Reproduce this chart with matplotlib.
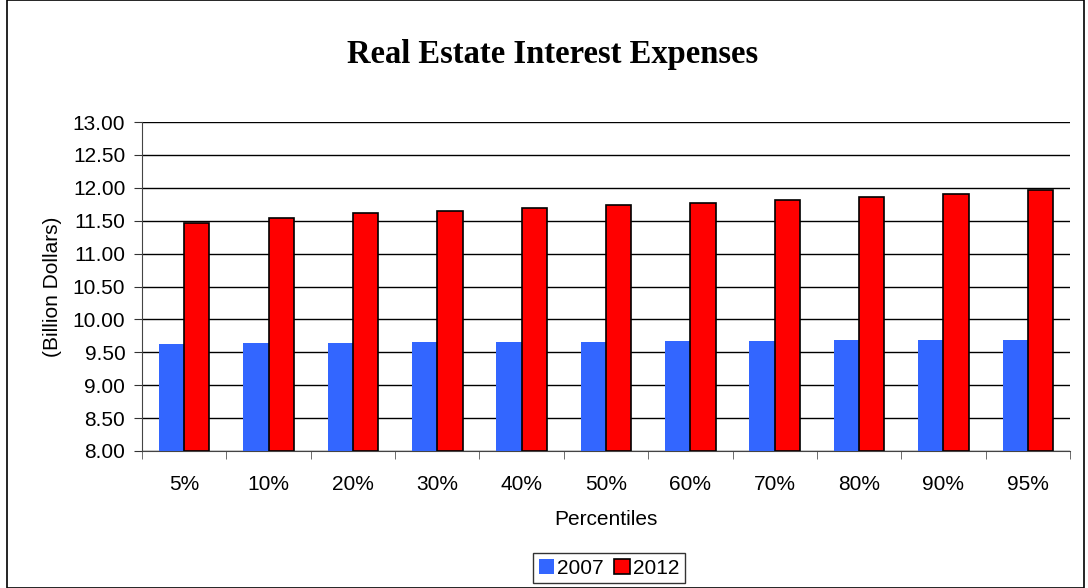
import numpy as np
import matplotlib
matplotlib.use("Agg")
from matplotlib import pyplot as plt
from matplotlib.patches import Rectangle

percentiles = ['5%', '10%', '20%', '30%', '40%', '50%', '60%', '70%', '80%', '90%', '95%']
vals_2007 = [9.63, 9.64, 9.645, 9.65, 9.655, 9.66, 9.665, 9.67, 9.68, 9.685, 9.69]
vals_2012 = [11.47, 11.54, 11.61, 11.65, 11.70, 11.74, 11.77, 11.82, 11.86, 11.91, 11.96]

plt.rcParams['font.family'] = ['Liberation Sans', 'DejaVu Sans']
fs = 15

fig = plt.figure(figsize=(10.88, 5.88), dpi=100)
ax = fig.add_axes([142 / 1088, 1 - 451 / 588, (1070 - 142) / 1088, (451 - 122) / 588])

x = np.arange(len(percentiles))
w = 0.3
ax.bar(x - w / 2, np.array(vals_2007) - 8, w, bottom=8, color='#3366ff', label='2007', zorder=3)
ax.bar(x + w / 2, np.array(vals_2012) - 8, w, bottom=8, color='#ff0000', edgecolor='black',
       linewidth=1.2, label='2012', zorder=3)

ax.set_xlim(-0.5, len(percentiles) - 0.5)
ax.set_ylim(8, 13)
ax.set_yticks(np.arange(8, 13.01, 0.5))
ax.set_yticklabels(['%.2f' % v for v in np.arange(8, 13.01, 0.5)], fontsize=fs)
ax.set_xticks(x)
ax.set_xticklabels(percentiles, fontsize=fs)
ax.tick_params(axis='x', length=0, pad=17)
ax.set_xticks(np.arange(-0.5, len(percentiles), 1), minor=True)
ax.tick_params(axis='x', which='minor', length=6, direction='out', color='#555555')
ax.tick_params(axis='y', length=6, direction='out', color='#333333', pad=6)
ax.grid(axis='y', color='black', linewidth=1, zorder=0)
for s in ['top', 'right']:
    ax.spines[s].set_visible(False)
ax.spines['left'].set_color('#444444')
ax.spines['bottom'].set_color('#444444')

ax.set_xlabel('Percentiles', fontsize=fs, labelpad=12)
ax.set_ylabel('(Billion Dollars)', fontsize=fs, labelpad=8)

fig.text(553 / 1088, 1 - 54 / 588, 'Real Estate Interest Expenses', ha='center', va='center',
         fontsize=23.5, fontweight='bold', family='Liberation Serif')

leg = ax.legend(loc='center', bbox_to_anchor=(609 / 1088, 1 - 568 / 588),
                bbox_transform=fig.transFigure, ncol=2, frameon=True, fancybox=False,
                fontsize=fs, handlelength=0.75, handleheight=0.75, handletextpad=0.15,
                columnspacing=0.5, borderpad=0.25, borderaxespad=0)
leg.get_frame().set_edgecolor('black')
leg.get_frame().set_linewidth(1)

fig.patches.append(Rectangle((7 / 1088, 0), 1077 / 1088, 1, transform=fig.transFigure,
                             fill=False, edgecolor='black', linewidth=1.2))

fig.savefig('out.png', dpi=100)
